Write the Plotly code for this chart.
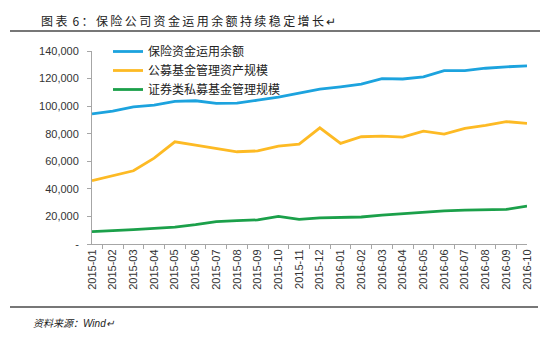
import plotly.graph_objects as go

months = ["2015-01","2015-02","2015-03","2015-04","2015-05","2015-06","2015-07","2015-08",
          "2015-09","2015-10","2015-11","2015-12","2016-01","2016-02","2016-03","2016-04",
          "2016-05","2016-06","2016-07","2016-08","2016-09","2016-10"]
insurance = [94400, 96400, 99500, 100700, 103400, 103900, 102000, 102200, 104300, 106500, 109500,
             112300, 114000, 115900, 120000, 119700, 121200, 125800, 125800, 127500, 128500, 129200]
public_funds = [45900, 49300, 53100, 62300, 74100, 71700, 69300, 66900, 67500, 71000, 72500,
                84300, 73000, 77800, 78300, 77500, 81900, 79700, 83800, 86000, 88800, 87500]
private_funds = [9000, 9600, 10400, 11400, 12300, 14000, 16200, 16900, 17500, 20000, 17900,
                 19000, 19300, 19600, 21000, 22000, 23300, 24000, 24600, 25000, 25100, 27500]
names = ["保险资金运用余额", "公募基金管理资产规模", "证券类私募基金管理规模"]
colors = ["#1CA3DE", "#FDBA24", "#1BA04A"]
yticks = [0, 20000, 40000, 60000, 80000, 100000, 120000, 140000]
yticktext = ["-", "20,000", "40,000", "60,000", "80,000", "100,000", "120,000", "140,000"]
title_text = "图表 6：保险公司资金运用余额持续稳定增长↵"
source_text = "资料来源：Wind↵"

FONT = "Liberation Sans, Arial, Noto Sans CJK SC"

fig = go.Figure()
for n, s, c in zip(names, [insurance, public_funds, private_funds], colors):
    fig.add_trace(go.Scatter(x=months, y=s, name=n, mode="lines",
                             line=dict(color=c, width=2.8)))

L, R, T, B = 92, 23, 51, 96
W, H = 550, 340
pw = W - L - R
ph = H - T - B
def px(x): return (x - L) / pw
def py(y): return (H - B - y) / ph

spaced_title = "\u2009".join(ch for ch in title_text if ch != " ").replace("6", " 6")

fig.update_layout(
    width=W, height=H,
    margin=dict(l=L, r=R, t=T, b=B),
    paper_bgcolor="white", plot_bgcolor="white",
    font=dict(family=FONT, size=11, color="#333333"),
    showlegend=True,
    legend=dict(x=px(108), y=py(37), xanchor="left", yanchor="top",
                bgcolor="rgba(0,0,0,0)", font=dict(size=12, color="#222222"),
                tracegroupgap=0, itemwidth=30),
    xaxis=dict(type="category", showline=True, linecolor="#A6A6A6", linewidth=1,
               ticks="outside", ticklen=4, tickcolor="#A6A6A6", tickson="boundaries",
               tickangle=-90, showgrid=False, tickfont=dict(size=11, color="#333333")),
    yaxis=dict(range=[0, 140000], tickvals=yticks, ticktext=yticktext, showline=True,
               linecolor="#A6A6A6", linewidth=1, ticks="outside", ticklen=4,
               tickcolor="#A6A6A6", showgrid=False, zeroline=False,
               ticklabelstandoff=6,
               tickfont=dict(size=11, color="#333333")),
    shapes=[
        dict(type="line", xref="paper", yref="paper", x0=px(10), x1=px(540),
             y0=py(31), y1=py(31), line=dict(color="#777777", width=2)),
        dict(type="line", xref="paper", yref="paper", x0=px(10), x1=px(538),
             y0=py(307), y1=py(307), line=dict(color="#777777", width=2)),
    ],
    annotations=[
        dict(text=spaced_title, xref="paper", yref="paper",
             x=px(39), y=py(21), xanchor="left", yanchor="middle", showarrow=False,
             font=dict(family="Noto Sans CJK SC", size=12, color="#222222")),
        dict(text="<i>" + source_text + "</i>", xref="paper", yref="paper",
             x=px(31), y=py(323), xanchor="left", yanchor="middle", showarrow=False,
             font=dict(family=FONT, size=10, color="#222222")),
    ],
)

fig.write_html("out.html")
